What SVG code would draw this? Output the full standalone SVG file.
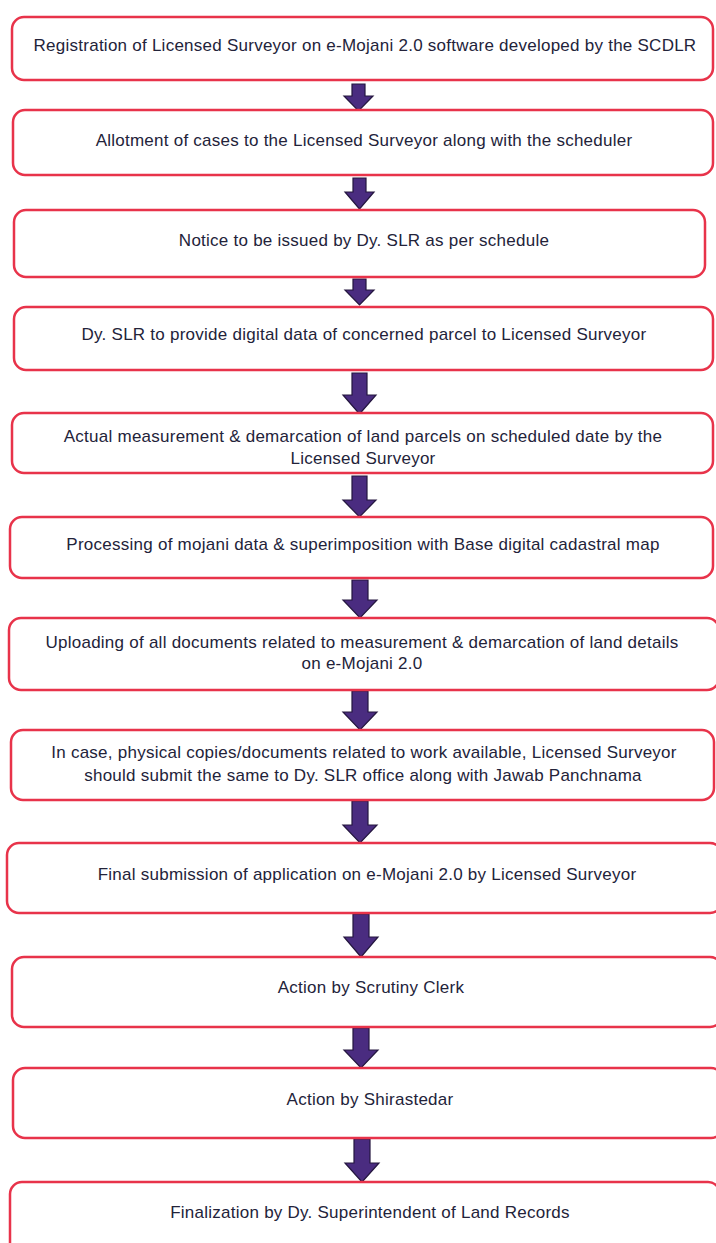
<svg xmlns="http://www.w3.org/2000/svg" width="716" height="1243" viewBox="0 0 716 1243">
<style>
.box{fill:#ffffff;stroke:#e8334a;stroke-width:2.5}
.t{font-family:"Liberation Sans",Arial,sans-serif;font-size:17px;letter-spacing:0.25px;fill:#23233a;text-anchor:middle}
.arr{fill:#4a2c80;stroke:#24163f;stroke-width:1.2;stroke-linejoin:miter}
</style>
<rect width="716" height="1243" fill="#ffffff"/>
<g id="connectors">
<path class="arr" d="M352,84 H365 V96 H373 L358.5,111 L344,96 H352 Z"/>
<path class="arr" d="M353,178 H366 V192 H374 L359.5,209 L345,192 H353 Z"/>
<path class="arr" d="M353,279 H366 V290 H374 L359.5,305 L345,290 H353 Z"/>
<path class="arr" d="M352,373 H367 V395 H376 L359.5,414 L343,395 H352 Z"/>
<path class="arr" d="M352,476 H367 V500 H376 L359.5,517 L343,500 H352 Z"/>
<path class="arr" d="M352,580 H368 V600 H377 L360,618 L343,600 H352 Z"/>
<path class="arr" d="M352,691 H368 V712 H377 L360,730 L343,712 H352 Z"/>
<path class="arr" d="M352,801 H368 V825 H377 L360,843 L343,825 H352 Z"/>
<path class="arr" d="M353,914 H369 V937 H378 L361,957 L344,937 H353 Z"/>
<path class="arr" d="M353,1028 H369 V1050 H378 L361,1068 L344,1050 H353 Z"/>
<path class="arr" d="M354,1139 H370 V1163 H379 L362,1182 L345,1163 H354 Z"/>
</g>
<g id="n1"><rect class="box" x="12" y="17" width="701" height="63" rx="12"/><text class="t" x="365" y="51">Registration of Licensed Surveyor on e-Mojani 2.0 software developed by the SCDLR</text></g>
<g id="n2"><rect class="box" x="13" y="110" width="700" height="65" rx="12"/><text class="t" x="364" y="146">Allotment of cases to the Licensed Surveyor along with the scheduler</text></g>
<g id="n3"><rect class="box" x="14" y="210" width="691" height="67" rx="12"/><text class="t" x="364" y="246">Notice to be issued by Dy. SLR as per schedule</text></g>
<g id="n4"><rect class="box" x="14" y="307" width="699" height="63" rx="12"/><text class="t" x="364" y="340">Dy. SLR to provide digital data of concerned parcel to Licensed Surveyor</text></g>
<g id="n5"><rect class="box" x="12" y="413" width="701" height="60" rx="12"/><text class="t" x="363" y="442">Actual measurement &amp; demarcation of land parcels on scheduled date by the</text><text class="t" x="363" y="464">Licensed Surveyor</text></g>
<g id="n6"><rect class="box" x="10" y="517" width="703" height="61" rx="12"/><text class="t" x="363" y="550">Processing of mojani data &amp; superimposition with Base digital cadastral map</text></g>
<g id="n7"><rect class="box" x="9" y="618" width="710" height="72" rx="12"/><text class="t" x="362" y="648">Uploading of all documents related to measurement &amp; demarcation of land details</text><text class="t" x="362" y="669">on e-Mojani 2.0</text></g>
<g id="n8"><rect class="box" x="11" y="730" width="703" height="70" rx="12"/><text class="t" x="364" y="758">In case, physical copies/documents related to work available, Licensed Surveyor</text><text class="t" x="363" y="781">should submit the same to Dy. SLR office along with Jawab Panchnama</text></g>
<g id="n9"><rect class="box" x="7" y="843" width="715" height="70" rx="12"/><text class="t" x="367" y="880">Final submission of application on e-Mojani 2.0 by Licensed Surveyor</text></g>
<g id="n10"><rect class="box" x="12" y="957" width="710" height="70" rx="12"/><text class="t" x="371" y="993">Action by Scrutiny Clerk</text></g>
<g id="n11"><rect class="box" x="13" y="1068" width="710" height="70" rx="12"/><text class="t" x="370" y="1105">Action by Shirastedar</text></g>
<g id="n12"><rect class="box" x="10" y="1182" width="710" height="80" rx="12"/><text class="t" x="370" y="1218">Finalization by Dy. Superintendent of Land Records</text></g>
</svg>
